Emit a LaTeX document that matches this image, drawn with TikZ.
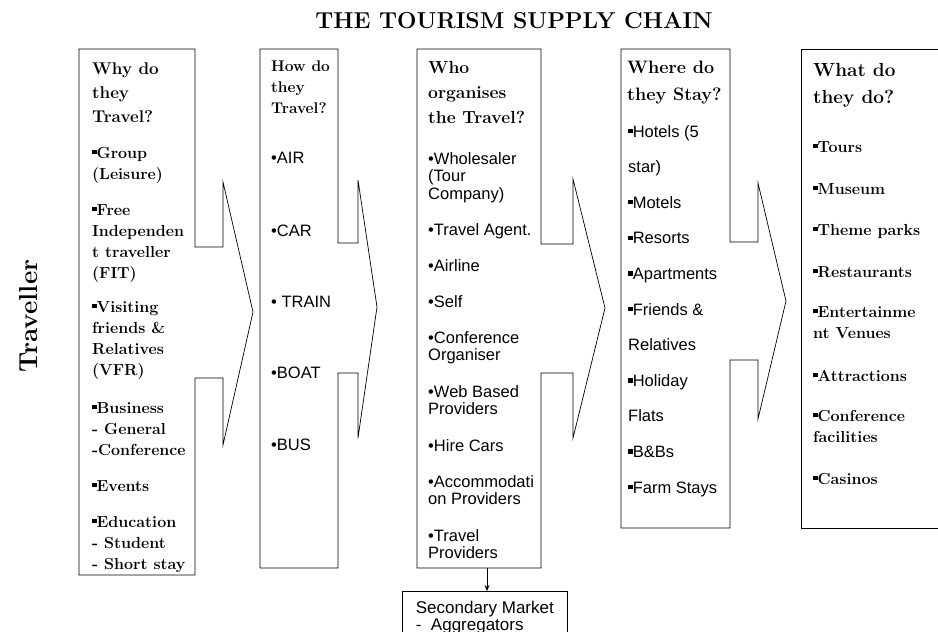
\documentclass[tikz,border=0pt]{standalone}
\usepackage{fontspec}
\setsansfont{Liberation Sans}
\usepackage{tikz}
\usetikzlibrary{positioning, arrows.meta}

\newcommand{\sqbul}{\rule[0.22em]{0.28em}{0.28em}}

\begin{document}
\begin{tikzpicture}[x=1pt, y=-1pt, >={Stealth[length=6pt, width=5pt]},
        callout/.style={draw=black, line width=0.7pt},
        hdr/.style={anchor=base west, inner sep=0pt, align=left},
        seritem/.style={anchor=base west, inner sep=0pt, align=left, font=\bfseries\fontsize{16}{21}\selectfont},
        sansitem/.style={anchor=base west, inner sep=0pt, align=left, font=\sffamily\fontsize{16.5}{17.7}\selectfont}]
    \useasboundingbox (0,0) rectangle (938,632);
    \clip (0,0) rectangle (938,632);

    % (multi-line nodes sit on the baseline of their last line)
    \node[anchor=base, font=\bfseries\fontsize{23}{23}\selectfont] (title) at (514,28) {THE TOURISM SUPPLY CHAIN};
    \node[anchor=base, rotate=90, font=\bfseries\fontsize{26}{26}\selectfont] (trav) at (37,316) {Traveller};

    % the five boxes
    \draw[callout] (79,49) -- (195,49) -- (195,247) -- (223,247) -- (223,182) -- (253,312) -- (223,445) -- (223,378) -- (195,378) -- (195,575) -- (79,575) -- cycle;
    \draw[callout] (260,49) -- (338,49) -- (338,243) -- (358,243) -- (358,180) -- (377,307) -- (358,438) -- (358,373) -- (338,373) -- (338,568) -- (260,568) -- cycle;
    \draw[callout] (417,49) -- (541,49) -- (541,244) -- (573,244) -- (573,179) -- (605,308) -- (573,438) -- (573,373) -- (541,373) -- (541,568) -- (417,568) -- cycle;
    \draw[callout] (621,49) -- (730,49) -- (730,242) -- (758,242) -- (758,183) -- (786,301) -- (758,419) -- (758,360) -- (730,360) -- (730,528) -- (621,528) -- cycle;
    \draw[callout] (950,49) -- (801,49) -- (801,528) -- (950,528);

    % why
    \node[hdr, font=\bfseries\fontsize{17}{24}\selectfont] (why) at (92,122) {Why do\\they\\Travel?};
    \node[seritem] (group) at (92,179) {\sqbul Group\\(Leisure)};
    \node[seritem] (fit) at (92,278) {\sqbul Free\\Independen\\t traveller\\(FIT)};
    \node[seritem] (vfr) at (92,375) {\sqbul Visiting\\friends \&\\Relatives\\(VFR)};
    \node[seritem] (business) at (92,455) {\sqbul Business\\- General\\-Conference};
    \node[seritem] (events) at (92,491) {\sqbul Events};
    \node[seritem] (education) at (92,569) {\sqbul Education\\- Student\\- Short stay};

    % how
    \node[hdr, font=\bfseries\fontsize{15.5}{21}\selectfont] (how) at (271,113) {How do\\they\\Travel?};
    \node[sansitem] (air) at (271,163) {•AIR};
    \node[sansitem] (car) at (271,236) {•CAR};
    \node[sansitem] (train) at (271,307) {• TRAIN};
    \node[sansitem] (boat) at (271,378) {•BOAT};
    \node[sansitem] (bus) at (271,450) {•BUS};

    % who
    \node[hdr, font=\bfseries\fontsize{17.5}{25}\selectfont] (who) at (428,123) {Who\\organises\\the Travel?};
    \node[sansitem] (wholesaler) at (428,199.4) {•Wholesaler\\(Tour\\Company)};
    \node[sansitem] (agent) at (428,235) {•Travel Agent.};
    \node[sansitem] (airline) at (428,271) {•Airline};
    \node[sansitem] (self) at (428,307) {•Self};
    \node[sansitem] (confo) at (428,360.7) {•Conference\\Organiser};
    \node[sansitem] (web) at (428,414.7) {•Web Based\\Providers};
    \node[sansitem] (hire) at (428,451) {•Hire Cars};
    \node[sansitem] (accom) at (428,504.7) {•Accommodati\\on Providers};
    \node[sansitem] (tprov) at (428,558.7) {•Travel\\Providers};

    % where
    \node[hdr, font=\bfseries\fontsize{18}{27}\selectfont] (where) at (627,100) {Where do\\they Stay?};
    \node[sansitem, font=\sffamily\fontsize{16.5}{35.6}\selectfont] (hotels) at (628,172.6) {\sqbul Hotels (5\\star)};
    \node[sansitem] (motels) at (628,208) {\sqbul Motels};
    \node[sansitem] (resorts) at (628,243.8) {\sqbul Resorts};
    \node[sansitem] (apts) at (628,279.4) {\sqbul Apartments};
    \node[sansitem, font=\sffamily\fontsize{16.5}{35.6}\selectfont] (friends) at (628,350.6) {\sqbul Friends \&\\Relatives};
    \node[sansitem, font=\sffamily\fontsize{16.5}{35.6}\selectfont] (holiday) at (628,421.8) {\sqbul Holiday\\Flats};
    \node[sansitem] (bnb) at (628,457.4) {\sqbul B\&Bs};
    \node[sansitem] (farm) at (628,493) {\sqbul Farm Stays};

    % what
    \node[hdr, font=\bfseries\fontsize{19}{27}\selectfont] (what) at (813,103) {What do\\they do?};
    \node[seritem] (tours) at (813,152) {\sqbul Tours};
    \node[seritem] (museum) at (813,194) {\sqbul Museum};
    \node[seritem] (theme) at (813,235) {\sqbul Theme parks};
    \node[seritem] (rest) at (813,277) {\sqbul Restaurants};
    \node[seritem] (ent) at (813,338) {\sqbul Entertainme\\nt Venues};
    \node[seritem] (attr) at (813,381) {\sqbul Attractions};
    \node[seritem] (conff) at (813,442) {\sqbul Conference\\facilities};
    \node[seritem] (casinos) at (813,484) {\sqbul Casinos};

    % secondary market
    \coordinate (orgbot) at (487,568);
    \node[draw, line width=0.7pt, anchor=north west, align=left, inner xsep=11pt, inner ysep=4pt,
        minimum width=165pt, minimum height=52pt, font=\sffamily\fontsize{17}{17}\selectfont] (sec) at (402,591)
        {Secondary Market\\-\ \ Aggregators};
    \draw[->, line width=0.7pt] (orgbot) -- (orgbot |- sec.north);
\end{tikzpicture}
\end{document}
